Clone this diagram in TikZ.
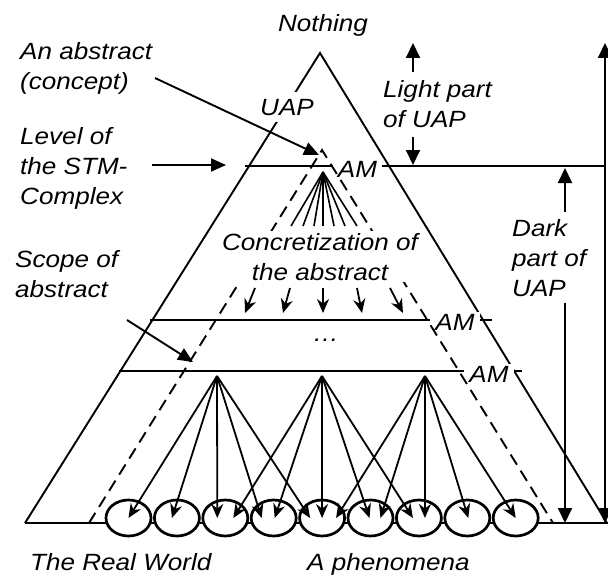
\documentclass[tikz,border=0pt]{standalone}
\usepackage{fontspec}
\newfontfamily\labfont{Liberation Sans}[FakeStretch=1.11]
\usetikzlibrary{arrows.meta,shapes.geometric}
\begin{document}
\begin{tikzpicture}[x=1pt,y=-1pt,
  lab/.style={font=\labfont\itshape\fontsize{23.5}{30}\selectfont, inner sep=0pt, align=left},
  edge/.style={line width=1.9pt},
  thinedge/.style={line width=1.6pt},
  dashedge/.style={line width=1.9pt, dash pattern=on 12pt off 7pt},
  pointer/.style={line width=1.9pt, -{Triangle[length=15pt,width=13pt]}},
  measure/.style={line width=1.9pt, -{Triangle[length=15pt,width=14pt]}},
  span/.style={line width=1.9pt, {Triangle[length=15pt,width=14pt]}-{Triangle[length=15pt,width=14pt]}},
  fanarrow/.style={line width=1.8pt, -{Stealth[length=14pt,width=12pt]}},
  phen/.style={ellipse, draw, line width=2.7pt, fill=white, minimum width=45pt, minimum height=36pt, inner sep=0pt},
  amlabel/.style={lab, fill=white, inner xsep=5pt, inner ysep=2pt}]
\useasboundingbox (0,0) rectangle (608,578);

% the UAP triangle and the real world at its base
\coordinate (top) at (320,53);
\coordinate (bl) at (25,523);
\coordinate (br) at (607,523);
\coordinate (baseR) at (608,523);
\draw[edge] (bl) -- (top) -- (br);
\draw[edge] (bl) -- (baseR);

% levels of abstraction
\coordinate (l1a) at (245,166); \coordinate (l1b) at (605,166);
\coordinate (l2a) at (150,320); \coordinate (l2b) at (492,320);
\coordinate (l3a) at (119,371); \coordinate (l3b) at (522,371);
\draw[edge] (l1a) -- (l1b);
\draw[edge] (l2a) -- (l2b);
\draw[edge] (l3a) -- (l3b);

% abstraction mechanisms on each level
\node[amlabel] (am1) at (357.5,169.5) {AM};
\node[amlabel] (am2) at (455,322) {AM};
\node[amlabel] (am3) at (489,374) {AM};

% scope of the abstract
\coordinate (abtop) at (322,150);
\coordinate (sl) at (89,523);
\coordinate (sr) at (553,523);
\draw[dashedge] (sl) -- (abtop) -- (sr);

% the abstract and its fan
\coordinate (abs) at (323,172);
\foreach \dx [count=\i] in {-32,-20,-9,0,11,22,34} {
  \coordinate (f\i) at ({323+(\dx)},226);
  \draw[thinedge] (abs) -- (f\i);
}

\node[lab, align=center, anchor=base, fill=white, inner xsep=2pt, inner ysep=2pt]
  (conc) at (320,280) {Concretization of\\the abstract};

\foreach \xa/\xb [count=\i] in {255/245, 290/283, 323/323, 357/362, 390/403} {
  \coordinate (ca\i) at (\xa,288);
  \coordinate (cb\i) at (\xb,313);
  \draw[fanarrow] (ca\i) -- (cb\i);
}

\node[lab, anchor=base] (dots) at (326,341) {…};

% phenomena of the real world
\foreach \i in {1,...,9}
  \node[phen] (e\i) at ({128.5+48.4*(\i-1)},518) {};

\coordinate (pa) at (217,376);
\coordinate (pb) at (322,376);
\coordinate (pc) at (425,376);
\foreach \e/\dx in {1/0, 2/-5, 3/-8, 4/-12, 5/-12}
  \draw[fanarrow] (pa) -- ([xshift=\dx pt]e\e.center);
\foreach \e/\dx in {3/8, 4/1, 5/0, 6/-1, 7/-6}
  \draw[fanarrow] (pb) -- ([xshift=\dx pt]e\e.center);
\foreach \e/\dx in {5/14, 6/10, 7/6, 8/1, 9/0}
  \draw[fanarrow] (pc) -- ([xshift=\dx pt]e\e.center);

% texts (multi-line nodes are placed by the baseline of their last line)
\node[lab, anchor=base] (nothing) at (323,32) {Nothing};
\node[lab, anchor=base west, fill=white, inner xsep=0pt, inner ysep=7pt] (uap) at (260,115) {UAP};
\node[lab, anchor=base west] (abstr) at (20,89) {An abstract\\(concept)};
\node[lab, anchor=base west] (stm) at (20,204) {Level of\\the STM-\\Complex};
\node[lab, anchor=base west] (scope) at (15,297) {Scope of\\abstract};
\node[lab, anchor=base west] (light) at (383,127) {Light part\\of UAP};
\node[lab, anchor=base west] (dark) at (512,296) {Dark\\part of\\UAP};
\node[lab, anchor=base west] (realw) at (30,570) {The Real World};
\node[lab, anchor=base west] (phenom) at (307,570) {A phenomena};

% pointers from the left-hand texts
\coordinate (abss) at (155,78);  \coordinate (abse) at (319,155);
\coordinate (stms) at (152,165); \coordinate (stme) at (226,165);
\coordinate (scs) at (127,320);  \coordinate (sce) at (193,362);
\draw[pointer] (abss) -- (abse);
\draw[pointer] (stms) -- (stme);
\draw[pointer] (scs) -- (sce);

% light and dark parts of UAP
\coordinate (lu1) at (413,72);  \coordinate (lu2) at (413,43);
\coordinate (ld1) at (413,137); \coordinate (ld2) at (413,165);
\draw[measure] (lu1) -- (lu2);
\draw[measure] (ld1) -- (ld2);
\coordinate (du1) at (565,212); \coordinate (du2) at (565,168);
\coordinate (dd1) at (565,303); \coordinate (dd2) at (565,523);
\draw[measure] (du1) -- (du2);
\draw[measure] (dd1) -- (dd2);
\coordinate (whtop) at (605,43); \coordinate (whbot) at (605,523);
\draw[span] (whtop) -- (whbot);
\end{tikzpicture}
\end{document}
